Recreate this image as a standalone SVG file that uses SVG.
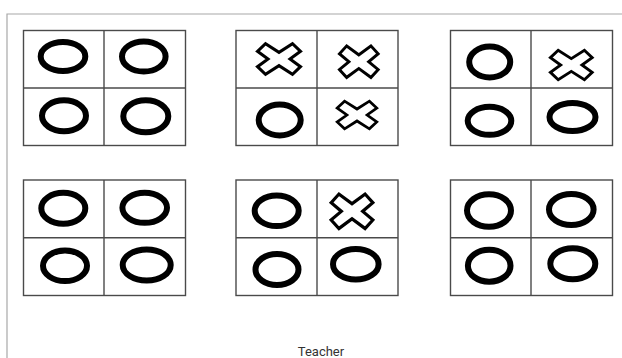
<svg xmlns="http://www.w3.org/2000/svg" xmlns:xlink="http://www.w3.org/1999/xlink" width="622" height="358" viewBox="0 0 622 358">
<style>
.frame{fill:none;stroke:#a8a8a8;stroke-width:1.2}
.grid{fill:#fff;stroke:#4a4a4a;stroke-width:1.4}
.div{stroke:#4a4a4a;stroke-width:1.4}
.o{fill:none;stroke:#000;stroke-width:6}
.x{fill:#fff;stroke:#000;stroke-width:3;stroke-linejoin:miter}
.lbl{font-family:Roboto,"Liberation Sans",sans-serif;font-size:13px;fill:#333}
</style>
<defs>
<polygon id="X" class="x" points="-21.5,-7.5 -13.5,-15 0,-6.5 13.5,-15 21.5,-7.5 11,0 21.5,7.5 13.5,15 0,6.5 -13.5,15 -21.5,7.5 -11,0"/>
</defs>
<rect width="622" height="358" fill="#fff"/>
<path class="frame" d="M7,358 V14 H622"/>
<g id="connectors"/>
<g id="board1">
<rect class="grid" x="23.5" y="30.5" width="162" height="115"/>
<line class="div" x1="104" y1="30.5" x2="104" y2="145.5"/>
<line class="div" x1="23.5" y1="88" x2="185.5" y2="88"/>
<ellipse class="o" cx="63" cy="56.5" rx="22.3" ry="14.5"/>
<ellipse class="o" cx="143.8" cy="56.5" rx="21.8" ry="15"/>
<ellipse class="o" cx="64" cy="115.8" rx="22" ry="15.5"/>
<ellipse class="o" cx="145.8" cy="116.3" rx="22.5" ry="16"/>
</g>
<g id="board2">
<rect class="grid" x="236" y="30.5" width="162" height="115"/>
<line class="div" x1="317" y1="30.5" x2="317" y2="145.5"/>
<line class="div" x1="236" y1="88" x2="398" y2="88"/>
<use xlink:href="#X" transform="translate(279,59) scale(1,1.02)"/>
<use xlink:href="#X" transform="translate(358.8,61.7) scale(0.9,1.05)"/>
<ellipse class="o" cx="279.7" cy="120" rx="21" ry="15.5"/>
<use xlink:href="#X" transform="translate(357,115) scale(0.92,0.92)"/>
</g>
<g id="board3">
<rect class="grid" x="450.5" y="30.5" width="162" height="115"/>
<line class="div" x1="531" y1="30.5" x2="531" y2="145.5"/>
<line class="div" x1="450.5" y1="88" x2="612.5" y2="88"/>
<ellipse class="o" cx="489.7" cy="62" rx="20.5" ry="15.5"/>
<use xlink:href="#X" transform="translate(571.3,65) scale(0.97,0.98)"/>
<ellipse class="o" cx="489.5" cy="120.8" rx="21.8" ry="14"/>
<ellipse class="o" cx="572.5" cy="117" rx="23" ry="14"/>
</g>
<g id="board4">
<rect class="grid" x="23.5" y="180" width="162" height="115.5"/>
<line class="div" x1="104" y1="180" x2="104" y2="295.5"/>
<line class="div" x1="23.5" y1="237.7" x2="185.5" y2="237.7"/>
<ellipse class="o" cx="63.3" cy="208.3" rx="22" ry="15.5"/>
<ellipse class="o" cx="144.7" cy="207.8" rx="22.3" ry="15"/>
<ellipse class="o" cx="65" cy="265.8" rx="22" ry="15.3"/>
<ellipse class="o" cx="146.7" cy="265" rx="24" ry="15.5"/>
</g>
<g id="board5">
<rect class="grid" x="236" y="180" width="162" height="115.5"/>
<line class="div" x1="317" y1="180" x2="317" y2="295.5"/>
<line class="div" x1="236" y1="237.7" x2="398" y2="237.7"/>
<ellipse class="o" cx="276.7" cy="210.8" rx="22" ry="15.3"/>
<use xlink:href="#X" transform="translate(352,211.3) scale(0.97,1.15)"/>
<ellipse class="o" cx="277" cy="269.5" rx="21.5" ry="15.5"/>
<ellipse class="o" cx="355.8" cy="264.2" rx="22.8" ry="15.3"/>
</g>
<g id="board6">
<rect class="grid" x="450.5" y="180" width="162" height="115.5"/>
<line class="div" x1="531" y1="180" x2="531" y2="295.5"/>
<line class="div" x1="450.5" y1="237.7" x2="612.5" y2="237.7"/>
<ellipse class="o" cx="489" cy="210.5" rx="22" ry="16.3"/>
<ellipse class="o" cx="571.3" cy="209.5" rx="22.3" ry="15.5"/>
<ellipse class="o" cx="489.2" cy="265.7" rx="21.3" ry="16"/>
<ellipse class="o" cx="572.8" cy="263.8" rx="22.5" ry="15.5"/>
</g>
<g id="label">
<text class="lbl" x="321" y="356" text-anchor="middle">Teacher</text>
</g>
</svg>
